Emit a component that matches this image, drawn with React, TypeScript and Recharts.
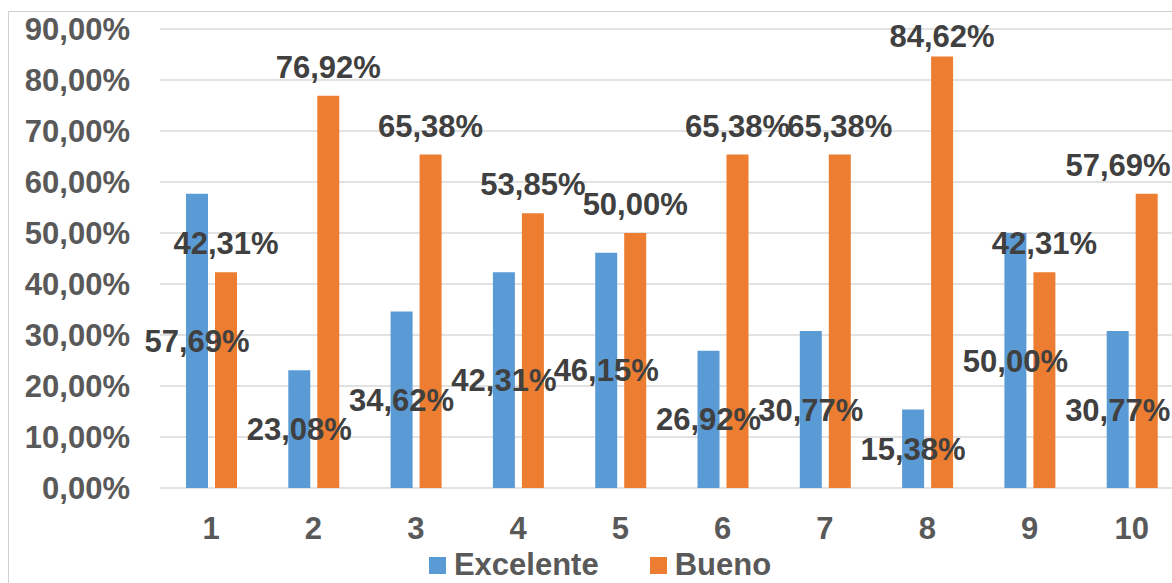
import React from 'react';
import {
  BarChart,
  Bar,
  XAxis,
  YAxis,
  CartesianGrid,
  Legend,
  LabelList,
} from 'recharts';

const categories = ['1', '2', '3', '4', '5', '6', '7', '8', '9', '10'];
const excelente = [57.69, 23.08, 34.62, 42.31, 46.15, 26.92, 30.77, 15.38, 50.0, 30.77];
const bueno = [42.31, 76.92, 65.38, 53.85, 50.0, 65.38, 65.38, 84.62, 42.31, 57.69];
const yTicks = [0, 10, 20, 30, 40, 50, 60, 70, 80, 90];

const data = categories.map((name, i) => ({
  name,
  excelente: excelente[i],
  bueno: bueno[i],
}));

const FONT = '"Liberation Sans", Arial, sans-serif';
const BLUE = '#5B9BD5';
const ORANGE = '#ED7D31';
const AXIS_TEXT = '#595959';
const LABEL_TEXT = '#404040';
const VIEW_W = 1172;
const VIEW_H = 583;

const pct = (v: number) => `${v.toFixed(2).replace('.', ',')}%`;

// excel keeps labels inside the chart area, so clamp them
const BuenoLabel = (props: any) => {
  const { x, y, width, value } = props;
  const cx = Math.min(x + width / 2, VIEW_W - 54);
  const baseline = Math.max(y - 18, 47);
  return (
    <text
      x={cx}
      y={baseline}
      textAnchor="middle"
      fill={LABEL_TEXT}
      fontSize={31}
      fontWeight="bold"
      fontFamily={FONT}
    >
      {pct(value)}
    </text>
  );
};

const ExcelenteLabel = (props: any) => {
  const { x, y, width, height, value } = props;
  return (
    <text
      x={x + width / 2}
      y={y + height / 2 + 11}
      textAnchor="middle"
      fill={LABEL_TEXT}
      fontSize={31}
      fontWeight="bold"
      fontFamily={FONT}
    >
      {pct(value)}
    </text>
  );
};

const LegendContent = () => {
  const items = [
    { label: 'Excelente', color: BLUE },
    { label: 'Bueno', color: ORANGE },
  ];
  return (
    <div style={{ display: 'flex', justifyContent: 'center', alignItems: 'center' }}>
      {items.map((it, i) => (
        <div
          key={it.label}
          style={{ display: 'flex', alignItems: 'center', marginLeft: i === 0 ? 0 : 51 }}
        >
          <span
            style={{ display: 'inline-block', width: 17, height: 17, background: it.color, marginRight: 8 }}
          />
          <span
            style={{
              fontFamily: FONT,
              fontSize: 31,
              fontWeight: 'bold',
              color: AXIS_TEXT,
              lineHeight: '34px',
            }}
          >
            {it.label}
          </span>
        </div>
      ))}
    </div>
  );
};

export default function App() {
  const tickStyle = { fill: AXIS_TEXT, fontSize: 31, fontWeight: 'bold', fontFamily: FONT };
  return (
    <div
      style={{
        position: 'absolute',
        left: 0,
        top: 0,
        width: VIEW_W,
        height: VIEW_H,
        overflow: 'hidden',
        background: '#fff',
      }}
    >
      <div
        style={{
          position: 'absolute',
          left: 8,
          top: 11,
          width: 1400,
          height: 800,
          border: '1px solid #D0D0D0',
        }}
      />
      <div style={{ position: 'absolute', left: 0, top: 0 }}>
        <BarChart
          width={1200}
          height={VIEW_H}
          data={data}
          margin={{ top: 29, right: 17, left: 20, bottom: 55 }}
          barSize={22}
          barGap={7}
        >
          <CartesianGrid vertical={false} stroke="#D9D9D9" strokeWidth={1.5} />
          <XAxis
            dataKey="name"
            height={40}
            axisLine={false}
            tickLine={false}
            tickSize={0}
            tickMargin={29}
            tick={tickStyle}
            interval={0}
          />
          <YAxis
            width={140}
            domain={[0, 90]}
            ticks={yTicks}
            tickFormatter={pct}
            axisLine={false}
            tickLine={false}
            tickSize={0}
            tickMargin={30}
            tick={tickStyle}
            interval={0}
          />
          <Legend
            verticalAlign="middle"
            align="center"
            layout="horizontal"
            content={<LegendContent />}
            wrapperStyle={{ top: 548, left: 0, width: 1200 }}
          />
          <Bar dataKey="excelente" name="Excelente" fill={BLUE} isAnimationActive={false}>
            <LabelList dataKey="excelente" content={<ExcelenteLabel />} />
          </Bar>
          <Bar dataKey="bueno" name="Bueno" fill={ORANGE} isAnimationActive={false}>
            <LabelList dataKey="bueno" content={<BuenoLabel />} />
          </Bar>
        </BarChart>
      </div>
    </div>
  );
}
